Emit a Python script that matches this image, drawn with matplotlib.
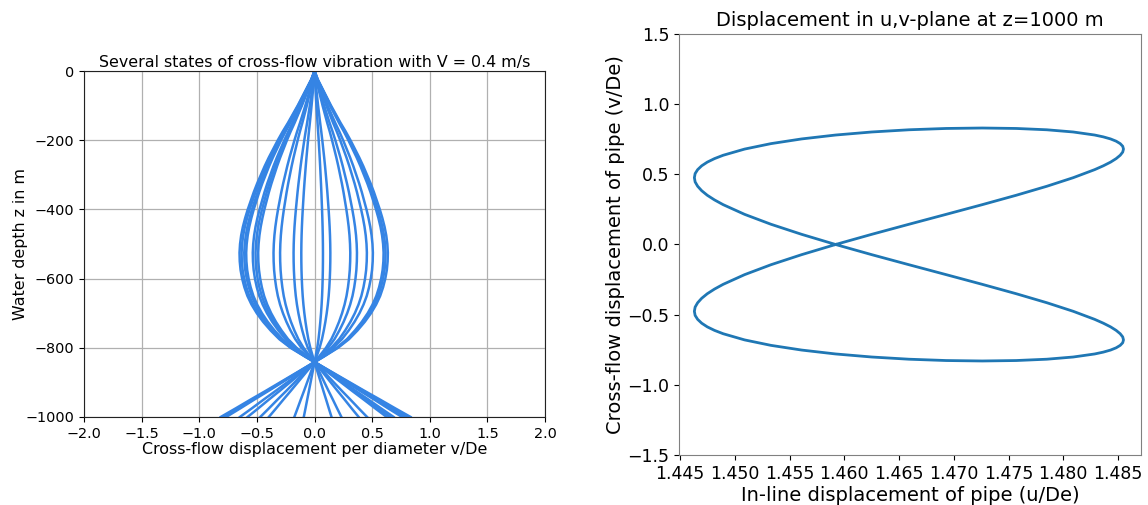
import numpy as np
import matplotlib
matplotlib.use("Agg")
import matplotlib.pyplot as plt

# depth grid (m) and normalised cross-flow mode shape
depth = [0, -25, -50, -75, -100, -125, -150, -175, -200, -225,
         -250, -275, -300, -325, -350, -375, -400, -425, -450, -475,
         -500, -525, -550, -575, -600, -625, -650, -675, -700, -725,
         -750, -775, -800, -825, -850, -875, -900, -925, -950, -975, -1000]
mode_shape = [0.000, 0.045, 0.105, 0.165, 0.225, 0.290, 0.355, 0.425, 0.490, 0.550,
              0.610, 0.665, 0.715, 0.765, 0.810, 0.850, 0.890, 0.925, 0.955, 0.978,
              0.993, 1.000, 0.997, 0.986, 0.965, 0.935, 0.895, 0.840, 0.770, 0.685,
              0.585, 0.470, 0.320, 0.130, -0.070, -0.270, -0.470, -0.670, -0.875, -1.075, -1.280]

# v/De at the belly (z ~ -525 m) for each plotted state
state_amp = [-0.651, -0.633, -0.610, -0.593, -0.536, -0.512, -0.489, -0.356, -0.299, -0.182,
             -0.115, 0.073, 0.137, 0.310, 0.368, 0.454, 0.506, 0.599, 0.616, 0.636]

# trajectory in u,v-plane at z = 1000 m (upper lobe, then lower lobe)
u_traj = [1.45920, 1.46250, 1.46590, 1.46930, 1.47260, 1.47570, 1.47850, 1.48091, 1.48287, 1.48366,
          1.48432, 1.48483, 1.48520, 1.48543, 1.48550, 1.48543, 1.48520, 1.48483, 1.48432, 1.48366,
          1.48287, 1.48091, 1.47850, 1.47570, 1.47260, 1.46930, 1.46590, 1.46250, 1.45920, 1.45610,
          1.45330, 1.45089, 1.44893, 1.44814, 1.44748, 1.44697, 1.44660, 1.44637, 1.44630, 1.44637,
          1.44660, 1.44697, 1.44748, 1.44814, 1.44893, 1.45089, 1.45330, 1.45610,
          1.45920, 1.46250, 1.46590, 1.46930, 1.47260, 1.47570, 1.47850, 1.48091, 1.48287, 1.48366,
          1.48432, 1.48483, 1.48520, 1.48543, 1.48550, 1.48543, 1.48520, 1.48483, 1.48432, 1.48366,
          1.48287, 1.48091, 1.47850, 1.47570, 1.47260, 1.46930, 1.46590, 1.46250, 1.45920, 1.45610,
          1.45330, 1.45089, 1.44893, 1.44814, 1.44748, 1.44697, 1.44660, 1.44637, 1.44630, 1.44637,
          1.44660, 1.44697, 1.44748, 1.44814, 1.44893, 1.45089, 1.45330, 1.45610, 1.45920]
v_traj = [0.0000, 0.0724, 0.1441, 0.2148, 0.2839, 0.3508, 0.4150, 0.4761, 0.5335, 0.5608,
          0.5869, 0.6120, 0.6358, 0.6585, 0.6799, 0.7000, 0.7188, 0.7362, 0.7522, 0.7668,
          0.7800, 0.8017, 0.8174, 0.8268, 0.8300, 0.8268, 0.8174, 0.8017, 0.7800, 0.7522,
          0.7188, 0.6799, 0.6358, 0.6120, 0.5869, 0.5608, 0.5335, 0.5053, 0.4761, 0.4460,
          0.4150, 0.3832, 0.3508, 0.3176, 0.2839, 0.2148, 0.1441, 0.0724,
          0.0000, -0.0724, -0.1441, -0.2148, -0.2839, -0.3508, -0.4150, -0.4761, -0.5335, -0.5608,
          -0.5869, -0.6120, -0.6358, -0.6585, -0.6799, -0.7000, -0.7188, -0.7362, -0.7522, -0.7668,
          -0.7800, -0.8017, -0.8174, -0.8268, -0.8300, -0.8268, -0.8174, -0.8017, -0.7800, -0.7522,
          -0.7188, -0.6799, -0.6358, -0.6120, -0.5869, -0.5608, -0.5335, -0.5053, -0.4761, -0.4460,
          -0.4150, -0.3832, -0.3508, -0.3176, -0.2839, -0.2148, -0.1441, -0.0724, 0.0000]

fig = plt.figure(figsize=(11.48, 5.05), dpi=100)
ax1 = fig.add_axes([0.0732, 0.1743, 0.4016, 0.685])
ax2 = fig.add_axes([0.5915, 0.099, 0.4024, 0.8337])

shape = np.array(mode_shape)
for a in state_amp:
    ax1.plot(a * shape, depth, color="#3584e4", lw=1.8)
ax1.set_xlim(-2, 2)
ax1.set_ylim(-1000, 0)
ax1.grid(True, color="#b0b0b0", lw=0.9)
ax1.set_axisbelow(True)
ax1.tick_params(labelsize=10.4)
ax1.set_title("Several states of cross-flow vibration with V = 0.4 m/s", fontsize=11.4, pad=3)
ax1.set_xlabel("Cross-flow displacement per diameter v/De", fontsize=11.4, labelpad=1)
ax1.set_ylabel("Water depth z in m", fontsize=11.4, labelpad=-1.5)
for s in ax1.spines.values():
    s.set_color("#222222")

ax2.plot(u_traj, v_traj, color="#1f77b4", lw=2)
ax2.set_xlim(1.4449, 1.4871)
ax2.set_ylim(-1.5, 1.5)
ax2.set_xticks([1.445, 1.450, 1.455, 1.460, 1.465, 1.470, 1.475, 1.480, 1.485])
ax2.tick_params(labelsize=12.5)
ax2.set_title("Displacement in u,v-plane at z=1000 m", fontsize=14, pad=6)
ax2.set_xlabel("In-line displacement of pipe (u/De)", fontsize=14, labelpad=2)
ax2.set_ylabel("Cross-flow displacement of pipe (v/De)", fontsize=14, labelpad=2)
for s in ax2.spines.values():
    s.set_color("#808080")

fig.savefig("out.png", dpi=100)
